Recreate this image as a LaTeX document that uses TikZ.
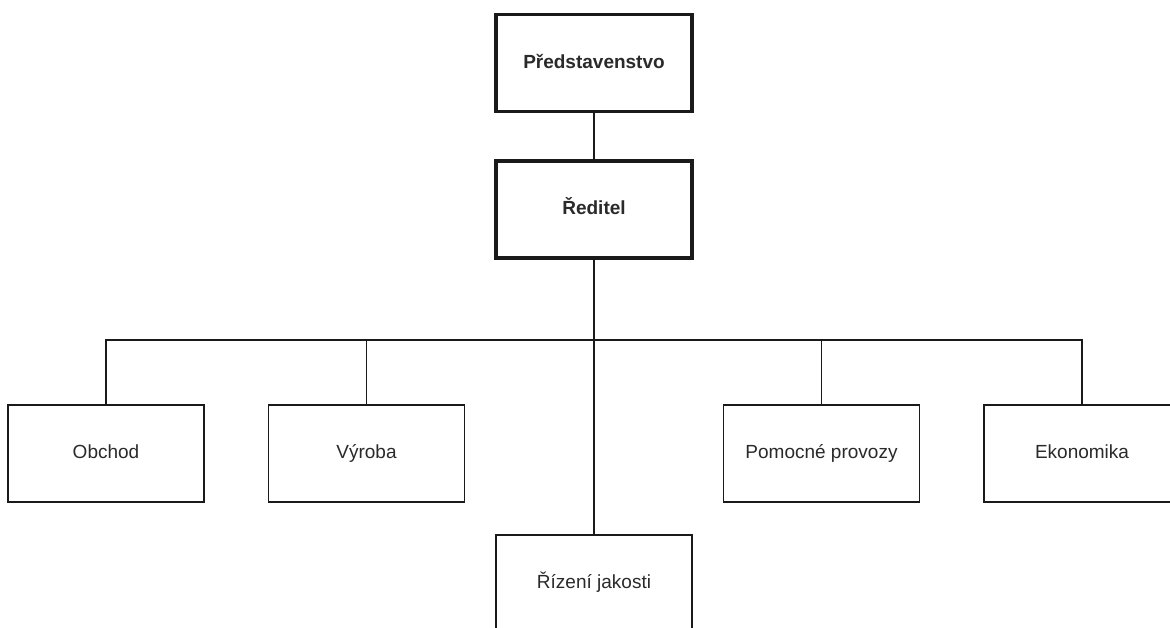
\documentclass[tikz,border=0pt]{standalone}
\usepackage{fontspec}
\setmainfont{Liberation Sans}
\definecolor{txt}{HTML}{2A2A2A}
\definecolor{ln}{HTML}{1A1A1A}
\tikzset{
  unit/.style={draw=ln, line width=1.6pt, minimum width=196pt, minimum height=97pt, inner sep=0pt, text=txt, text height=14pt, text depth=4pt, font=\fontsize{19}{23}\selectfont},
  head/.style={unit, line width=3.3pt, font=\fontsize{19}{23}\selectfont\bfseries},
  conn/.style={draw=ln, line width=1.6pt}
}
\begin{document}
\begin{tikzpicture}[x=1pt,y=-1pt]
\useasboundingbox (0,0) rectangle (1170,627);
\clip (0,0) rectangle (1170,627);
\fill[white] (0,0) rectangle (1170,627);
\node[head] (pred) at (594,63) {Představenstvo};
\node[head] (red) at (594,209.5) {Ředitel};
\node[unit] (obch) at (106,453.5) {Obchod};
\node[unit] (vyr) at (366.5,453.5) {Výroba};
\node[unit] (pom) at (821.5,453.5) {Pomocné provozy};
\node[unit] (eko) at (1082,453.5) {Ekonomika};
\node[unit] (riz) at (594,583.5) {Řízení jakosti};
\coordinate (bus) at (594,340);
\draw[conn] (pred.south) -- (red.north);
\draw[conn] (red.south) -- (riz.north);
\draw[conn] (obch.north) -- (obch.north |- bus) -- (eko.north |- bus) -- (eko.north);
\draw[conn] (vyr.north) -- (vyr.north |- bus);
\draw[conn] (pom.north) -- (pom.north |- bus);
\end{tikzpicture}
\end{document}
